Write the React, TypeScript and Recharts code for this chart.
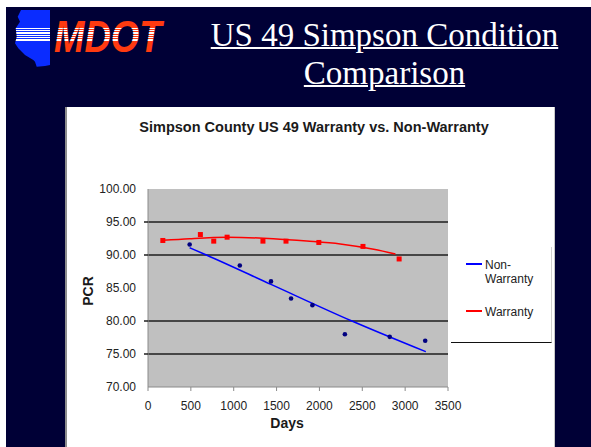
import { ComposedChart, Scatter, XAxis, YAxis, CartesianGrid, ReferenceLine } from 'recharts'

const nonWarrantyDays = [486, 1071, 1435, 1669, 1918, 2297, 2820, 3234]
const nonWarrantyPcr = [91.6, 88.4, 86.0, 83.4, 82.4, 78.0, 77.6, 77.0]

const warrantyDays = [173, 611, 767, 923, 1341, 1610, 1993, 2508, 2930]
const warrantyPcr = [92.2, 93.1, 92.1, 92.7, 92.1, 92.1, 91.9, 91.3, 89.4]

// trendlines as drawn in the picture
const nonWarrantyTrendDays = [486, 681, 1435, 2379, 3241]
const nonWarrantyTrendPcr = [91.1, 90.0, 85.55, 80.0, 75.35]
const warrantyTrendDays = [173, 486, 923, 1462, 1852, 2243, 2633, 2887]
const warrantyTrendPcr = [92.22, 92.47, 92.68, 92.47, 92.12, 91.67, 90.86, 90.15]

const xTicks = [0, 500, 1000, 1500, 2000, 2500, 3000, 3500]
const yTicks = [70, 75, 80, 85, 90, 95, 100]
// the 85 line is not drawn in the original
const gridLines = [95, 90, 80, 75]

const toPoints = (xs: number[], ys: number[]) => xs.map((d, i) => ({ days: d, pcr: ys[i] }))

const nonWarranty = toPoints(nonWarrantyDays, nonWarrantyPcr)
const warranty = toPoints(warrantyDays, warrantyPcr)
const nonWarrantyTrend = toPoints(nonWarrantyTrendDays, nonWarrantyTrendPcr)
const warrantyTrend = toPoints(warrantyTrendDays, warrantyTrendPcr)

const sans = '"Liberation Sans", Arial, sans-serif'

const Dot = (props: any) => <circle cx={props.cx} cy={props.cy} r={2.3} fill="#000080" />
const Square = (props: any) => <rect x={props.cx - 2.5} y={props.cy - 2.5} width={5} height={5} fill="#ff0000" />
const Nothing = () => <g />

const YTick = (props: any) => {
  const v = props.payload.value
  return (
    <g>
      <text x={71} y={props.y} dy={4} textAnchor="end" fontSize={12} fontFamily={sans} fill="#222">
        {v.toFixed(2)}
      </text>
      {gridLines.includes(v) && <line x1={79} x2={83} y1={props.y} y2={props.y} stroke="#1e1e1e" strokeWidth={1.5} />}
    </g>
  )
}

// logo: white stripes across the state shape and the lettering
const stripeY = [28.5, 30.8, 33.1, 35.4, 37.7, 40]
const LOGO_H = 75

const stripeStops = (base: string) => {
  const stops: any[] = [<stop key="s" offset={0} stopColor={base} />]
  stripeY.forEach((y, i) => {
    const a = (y - 0.6) / LOGO_H
    const b = (y + 0.6) / LOGO_H
    stops.push(<stop key={i + 'a'} offset={a} stopColor={base} />)
    stops.push(<stop key={i + 'b'} offset={a} stopColor="#ffffff" />)
    stops.push(<stop key={i + 'c'} offset={b} stopColor="#ffffff" />)
    stops.push(<stop key={i + 'd'} offset={b} stopColor={base} />)
  })
  stops.push(<stop key="e" offset={1} stopColor={base} />)
  return stops
}

const Logo = () => (
  <svg width={175} height={LOGO_H} style={{ position: 'absolute', left: 0, top: 0 }}>
    <defs>
      <linearGradient id="blueStripes" gradientUnits="userSpaceOnUse" x1={0} y1={0} x2={0} y2={LOGO_H}>
        {stripeStops('#0a2cff')}
      </linearGradient>
      <linearGradient id="redStripes" gradientUnits="userSpaceOnUse" x1={0} y1={0} x2={0} y2={LOGO_H}>
        {stripeStops('#ff3a10')}
      </linearGradient>
    </defs>
    <polygon
      points="21,10 50,10 50,65 45,66 36.7,66.7 35,61.7 33.3,60 25,55 18.3,48.3 15,43.3 16.7,36.7 15.7,28.3 20,21.7 17.7,16.7"
      fill="url(#blueStripes)"
    />
    <g transform="translate(54,0) scale(0.83,1)">
      <text x={0} y={52} fontSize={44} fontWeight="bold" fontStyle="italic" fontFamily={sans} fill="url(#redStripes)">
        MDOT
      </text>
    </g>
  </svg>
)

export default function App() {
  return (
    <div style={{ position: 'relative', width: 591, height: 447, background: '#fff', overflow: 'hidden' }}>
      <style>{`body{margin:0}`}</style>
      <div style={{ position: 'absolute', left: 6, top: 7, right: 0, bottom: 0, background: '#000036' }} />
      <Logo />
      <div
        style={{
          position: 'absolute',
          left: 184.5,
          top: 16,
          width: 400,
          textAlign: 'center',
          fontFamily: '"Liberation Serif", "Times New Roman", serif',
          fontSize: 33,
          lineHeight: '38px',
          color: '#fff',
          textDecoration: 'underline',
          textDecorationThickness: 2,
        }}
      >
        US 49 Simpson Condition
        <br />
        Comparison
      </div>

      <div
        style={{
          position: 'absolute',
          left: 65,
          top: 107,
          width: 487,
          height: 340,
          background: '#fff',
          borderLeft: '2px solid #8c8c8c',
          borderRight: '1px solid #c8c8c8',
        }}
      />

      <div
        style={{
          position: 'absolute',
          left: 64,
          top: 119,
          width: 500,
          textAlign: 'center',
          fontFamily: sans,
          fontWeight: 'bold',
          fontSize: 14.5,
          lineHeight: '17px',
          color: '#1a1a1a',
        }}
      >
        Simpson County US 49 Warranty vs. Non-Warranty
      </div>

      <div style={{ position: 'absolute', left: 65, top: 107 }}>
        <ComposedChart width={488} height={340} margin={{ top: 82, right: 105, bottom: 0, left: 0 }}>
          <CartesianGrid fill="#c0c0c0" horizontal={false} vertical={false} />
          <XAxis
            type="number"
            dataKey="days"
            domain={[0, 3500]}
            ticks={xTicks}
            height={60}
            stroke="#8a8a8a"
            tickSize={4}
            tickMargin={10}
            tick={{ fill: '#222', fontSize: 12, fontFamily: sans }}
          />
          <YAxis
            type="number"
            dataKey="pcr"
            domain={[70, 100]}
            ticks={yTicks}
            width={83}
            stroke="#8a8a8a"
            tickLine={false}
            tick={<YTick />}
          />
          {gridLines.map((v) => (
            <ReferenceLine key={v} y={v} stroke="#1e1e1e" strokeWidth={1.5} />
          ))}
          <Scatter data={warrantyTrend} line={{ stroke: '#ff0000', strokeWidth: 1.5 }} lineJointType="monotoneX" shape={<Nothing />} isAnimationActive={false} />
          <Scatter data={nonWarrantyTrend} line={{ stroke: '#0000ff', strokeWidth: 1.5 }} lineJointType="monotoneX" shape={<Nothing />} isAnimationActive={false} />
          <Scatter data={warranty} shape={<Square />} isAnimationActive={false} />
          <Scatter data={nonWarranty} shape={<Dot />} isAnimationActive={false} />
        </ComposedChart>
      </div>

      <div
        style={{
          position: 'absolute',
          left: 67.5,
          top: 283,
          width: 40,
          height: 16,
          lineHeight: '16px',
          textAlign: 'center',
          fontFamily: sans,
          fontWeight: 'bold',
          fontSize: 14,
          color: '#1a1a1a',
          transform: 'rotate(-90deg)',
        }}
      >
        PCR
      </div>
      <div
        style={{
          position: 'absolute',
          left: 237,
          top: 415,
          width: 100,
          textAlign: 'center',
          fontFamily: sans,
          fontWeight: 'bold',
          fontSize: 14,
          lineHeight: '16px',
          color: '#1a1a1a',
        }}
      >
        Days
      </div>

      <div
        style={{
          position: 'absolute',
          left: 451,
          top: 247,
          width: 100,
          height: 95,
          background: '#fff',
          borderRight: '1px solid #cfcfcf',
          borderBottom: '1px solid #111',
          fontFamily: sans,
          fontSize: 12,
          lineHeight: '14px',
          color: '#222',
        }}
      >
        <div style={{ position: 'absolute', left: 15, top: 16, width: 16, height: 2, background: '#0000ff' }} />
        <div style={{ position: 'absolute', left: 34, top: 11 }}>
          Non-
          <br />
          Warranty
        </div>
        <div style={{ position: 'absolute', left: 15, top: 63, width: 16, height: 1.5, background: '#ff0000' }} />
        <div style={{ position: 'absolute', left: 34, top: 58 }}>Warranty</div>
      </div>
    </div>
  )
}
